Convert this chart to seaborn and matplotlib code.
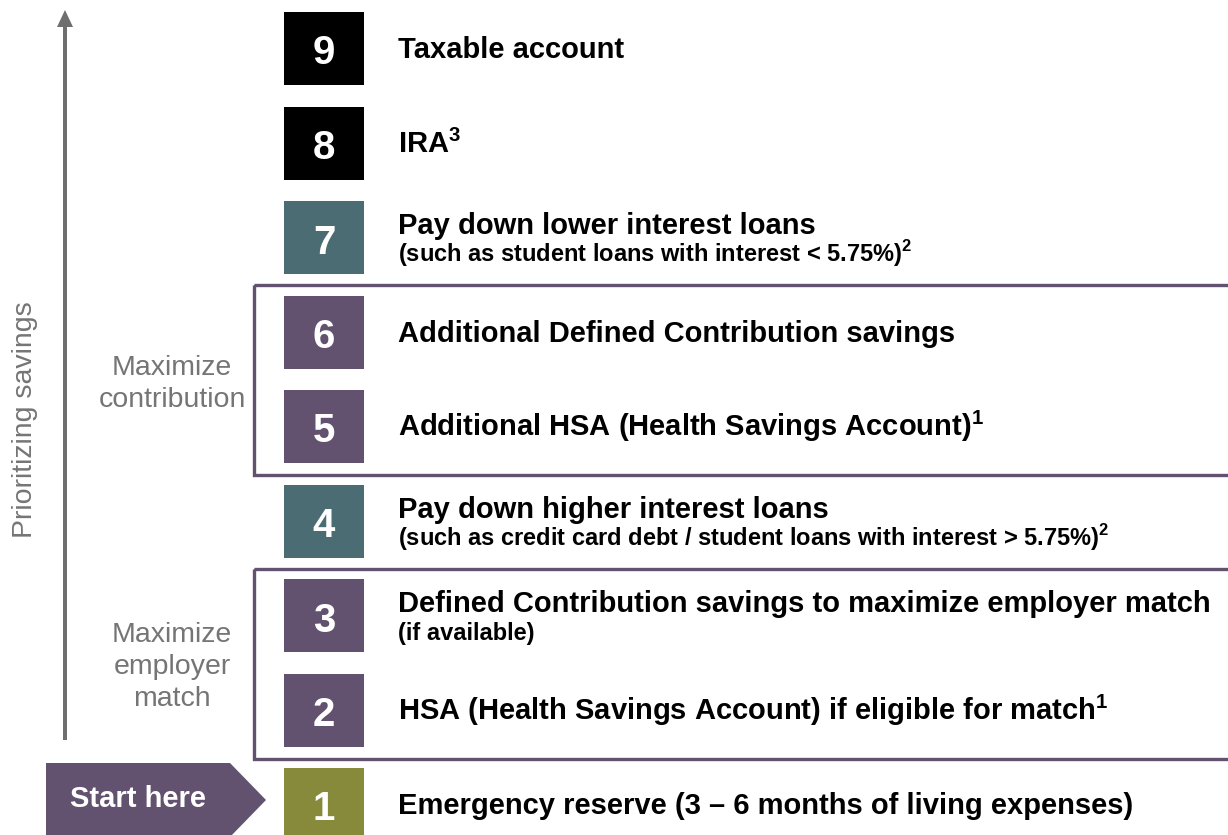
import numpy as np
import pandas as pd
import matplotlib
matplotlib.use('Agg')
import matplotlib.pyplot as plt
from matplotlib.patches import Rectangle, Polygon
import seaborn as sns

#%% data -- the savings ladder, top step first

steps = [9, 8, 7, 6, 5, 4, 3, 2, 1]
titles = ['Taxable account',
          r'IRA$^{\mathbf{3}}$',
          'Pay down lower interest loans',
          'Additional Defined Contribution savings',
          r'Additional HSA (Health Savings Account)$^{\mathbf{1}}$',
          'Pay down higher interest loans',
          'Defined Contribution savings to maximize employer match',
          r'HSA (Health Savings Account) if eligible for match$^{\mathbf{1}}$',
          'Emergency reserve (3 – 6 months of living expenses)']
notes = ['',
         '',
         r'(such as student loans with interest < 5.75%)$^{\mathbf{2}}$',
         '',
         '',
         r'(such as credit card debt / student loans with interest > 5.75%)$^{\mathbf{2}}$',
         '(if available)',
         '',
         '']
kinds = ['other', 'other', 'debt', 'max', 'max', 'debt', 'match', 'match', 'reserve']

groups = ['Maximize\ncontribution', 'Maximize\nemployer\nmatch']
group_steps = [(6, 5), (3, 2)]

colors = {'other': '#000000', 'debt': '#4b6c73', 'max': '#62526f',
          'match': '#62526f', 'reserve': '#878a3b'}
purple = '#62526f'
gray = '#6e6e6e'
gray_txt = '#757575'

df = pd.DataFrame({'step': steps, 'title': titles, 'note': notes, 'kind': kinds})

#%% layout (pixel units)

W, H = 1228, 835
box_x, box_w, box_h = 284, 80, 73
first_top, pitch = 12, 94.5
df['top'] = first_top + (9 - df['step']) * pitch
df['mid'] = df['top'] + box_h / 2

sns.set_theme(style='white')
plt.rcParams['font.family'] = ['Liberation Sans', 'DejaVu Sans']
plt.rcParams['mathtext.fontset'] = 'custom'
plt.rcParams['mathtext.bf'] = 'Liberation Sans:bold'
plt.rcParams['mathtext.rm'] = 'Liberation Sans:bold'
plt.rcParams['text.color'] = 'black'

fig = plt.figure(figsize=(W / 100, H / 100), dpi=100)
ax = fig.add_axes([0, 0, 1, 1])
ax.set_xlim(0, W)
ax.set_ylim(H, 0)
ax.axis('off')

# numbered squares
ax.bar(box_x + box_w / 2, box_h, width=box_w, bottom=df['top'],
       color=[colors[k] for k in df['kind']], linewidth=0)
for _, r in df.iterrows():
    ax.text(box_x + box_w / 2, r['mid'] + 16, str(r['step']), color='white',
            fontsize=29, fontweight='bold', ha='center', va='baseline')
    if r['note']:
        ax.text(398, r['mid'] - 3.5, r['title'], fontsize=21, fontweight='bold',
                ha='left', va='baseline')
        ax.text(398, r['mid'] + 24.5, r['note'], fontsize=17, fontweight='bold',
                ha='left', va='baseline')
    else:
        ax.text(398, r['mid'] + 10, r['title'], fontsize=21, fontweight='bold',
                ha='left', va='baseline')

# bracket boxes + group labels
for label, (hi, lo) in zip(groups, group_steps):
    top = df.loc[df['step'] == hi, 'top'].iloc[0] - 10.5
    bot = df.loc[df['step'] == lo, 'top'].iloc[0] + box_h + 12
    ax.add_patch(Rectangle((254, top), 1100, bot - top, fill=False,
                           edgecolor=purple, linewidth=2.4))
    ax.text(172, (top + bot) / 2 + 4, label, fontsize=20.5, color=gray_txt,
            ha='center', va='center', linespacing=1.3)

# priority arrow
ax.arrow(65, 740, 0, -730, width=4, head_width=16, head_length=17,
         length_includes_head=True, color=gray, linewidth=0)
ax.text(25, 420, 'Prioritizing savings', rotation=90, fontsize=20.5,
        color=gray_txt, ha='center', va='center')

# start here tag
ax.add_patch(Polygon([(46, 763), (230, 763), (266, 800), (230, 837), (46, 837)],
                     closed=True, facecolor=purple, edgecolor='none'))
ax.text(138, 807, 'Start here', color='white', fontsize=21, fontweight='bold',
        ha='center', va='baseline')

fig.savefig('out.png', dpi=100)
